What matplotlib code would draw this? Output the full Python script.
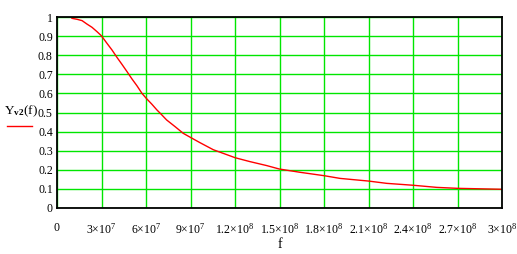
import numpy as np
import matplotlib
matplotlib.use("Agg")
import matplotlib.pyplot as plt
from matplotlib.lines import Line2D

plt.rcParams['font.family'] = ['Liberation Serif', 'DejaVu Serif']
plt.rcParams['mathtext.fontset'] = 'custom'
plt.rcParams['mathtext.rm'] = 'Liberation Serif'
plt.rcParams['mathtext.it'] = 'Liberation Serif'
plt.rcParams['mathtext.bf'] = 'Liberation Serif:bold'

# values (f in units of 1e7 Hz)
f = np.array([1.01, 1.35, 1.69, 2.02, 2.36, 2.70, 2.99, 3.37, 3.71, 4.04, 4.38,
              4.72, 5.06, 5.39, 5.73, 6.02, 6.40, 6.74, 7.01, 7.39, 7.96, 8.51,
              8.99, 9.64, 10.54, 11.21, 12.02, 13.0, 14.14, 14.99, 16.38, 18.02,
              19.08, 21.01, 22.23, 24.02, 25.6, 26.99, 30.0]) * 1e7
yv2 = [0.993, 0.988, 0.981, 0.963, 0.946, 0.923, 0.902, 0.862, 0.827, 0.789, 0.752,
       0.714, 0.675, 0.640, 0.600, 0.574, 0.543, 0.513, 0.492, 0.461, 0.426, 0.391,
       0.370, 0.342, 0.305, 0.286, 0.263, 0.243, 0.222, 0.204, 0.187, 0.169,
       0.155, 0.141, 0.129, 0.119, 0.108, 0.103, 0.098]

xticks = [i * 3e7 for i in range(11)]
xlabels = ['0', r'$3{\times}10^{7}$', r'$6{\times}10^{7}$', r'$9{\times}10^{7}$',
           r'$1.2{\times}10^{8}$', r'$1.5{\times}10^{8}$', r'$1.8{\times}10^{8}$',
           r'$2.1{\times}10^{8}$', r'$2.4{\times}10^{8}$', r'$2.7{\times}10^{8}$',
           r'$3{\times}10^{8}$']
yticks = [round(0.1 * i, 1) for i in range(11)]
ylabels = ['0'] + ['%.1f' % v for v in yticks[1:-1]] + ['1']

fig = plt.figure(figsize=(5.17, 2.54), dpi=100)
ax = fig.add_axes([57/517, 1 - 208/254, 445/517, 191/254])
ax.plot(f, yv2, color='red', lw=1.0)
ax.set_xlim(0, 3e8)
ax.set_ylim(0, 1)
ax.set_xticks(xticks)
ax.set_xticklabels(xlabels, fontsize=8.5)
ax.set_yticks(yticks)
ax.set_yticklabels(ylabels, fontsize=8.5)
ax.tick_params(length=0, pad=3)
ax.tick_params(axis='x', pad=10)
ax.grid(True, color='#00e600', lw=1.0)
ax.set_axisbelow(True)
for s in ax.spines.values():
    s.set_linewidth(1.3)
    s.set_color('black')

fig.text(280/517, 1 - 245/254, 'f', fontsize=10, ha='center', va='center')
fig.text(4/517, 1 - 111/254, r'$\mathrm{Y}_{\mathbf{v2}}\mathrm{(f)}$', fontsize=9.5,
         ha='left', va='center')
fig.add_artist(Line2D([7/517, 32/517], [1 - 126/254, 1 - 126/254], color='red', lw=1.0))

fig.savefig('out.png', dpi=100)
